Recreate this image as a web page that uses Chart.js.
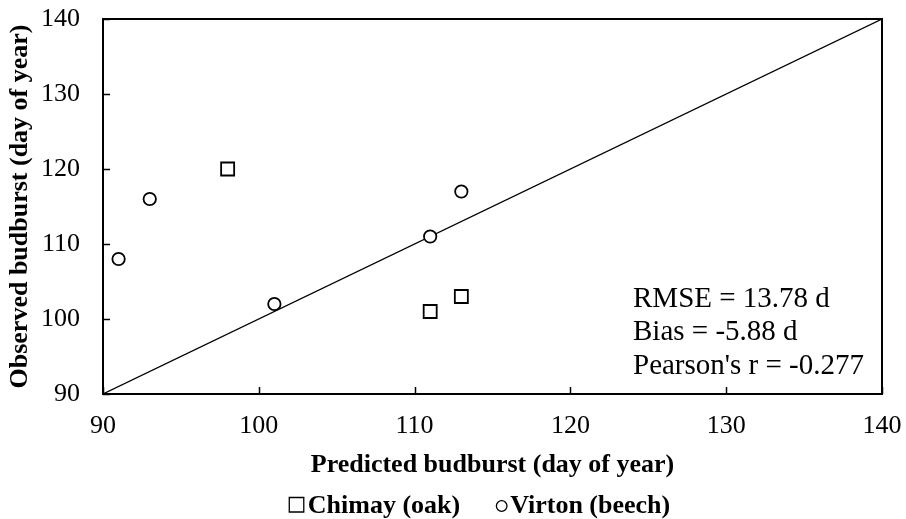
<!DOCTYPE html>
<html><head><meta charset="utf-8">
<script src="https://cdn.jsdelivr.net/npm/chart.js@4.4.1/dist/chart.umd.min.js"></script>
<style>html,body{margin:0;padding:0;background:#fff;}#wrap{width:906px;height:519px;}</style>
</head><body><div id="wrap"><canvas id="c" width="906" height="519"></canvas></div>
<script>
// ---- data ----
const chimayPredicted = [98, 111, 113];
const chimayObserved  = [120, 101, 103];
const virtonPredicted = [91, 93, 101, 111, 113];
const virtonObserved  = [108, 116, 102, 111, 117];
const oneToOne = [90, 140];
const axisMin = 90, axisMax = 140, axisStep = 10;
const seriesNames = ["Chimay (oak)", "Virton (beech)"];
const statsLines = ["RMSE = 13.78 d", "Bias = -5.88 d", "Pearson's r = -0.277"];
const xTitle = "Predicted budburst (day of year)";
const yTitle = "Observed budburst (day of year)";

const SERIF = "'Liberation Serif', 'Times New Roman', serif";

const toPts = (xs, ys) => xs.map((x, i) => ({x: x, y: ys[i]}));

const frame = {
  id: 'frame',
  afterDraw(chart) {
    const {ctx, chartArea: a, scales} = chart;
    ctx.save();
    ctx.strokeStyle = '#000';
    ctx.lineWidth = 1.5;
    // inward ticks
    const ticks = [];
    for (let v = axisMin; v <= axisMax; v += axisStep) ticks.push(v);
    ticks.forEach(v => {
      const px = Math.round(scales.x.getPixelForValue(v)) + 0.5;
      ctx.beginPath(); ctx.moveTo(px, a.bottom); ctx.lineTo(px, a.bottom - 7); ctx.stroke();
      const py = Math.round(scales.y.getPixelForValue(v)) + 0.5;
      ctx.beginPath(); ctx.moveTo(a.left, py); ctx.lineTo(a.left + 7, py); ctx.stroke();
    });
    ctx.lineWidth = 2;
    ctx.strokeRect(a.left, a.top, a.right - a.left, a.bottom - a.top);
    // stats text
    ctx.fillStyle = '#000';
    ctx.font = "29px " + SERIF;
    ctx.textAlign = 'left';
    ctx.textBaseline = 'alphabetic';
    statsLines.forEach((t, i) => ctx.fillText(t, a.left + 530, a.top + 288 + i * 33.4));
    // legend
    ctx.font = "bold 26px " + SERIF;
    const ds = chart.data.datasets.filter(d => d.label);
    const mkW = d => d.pointStyle === 'rect' ? 15 : 11;
    const gapIn = d => d.pointStyle === 'rect' ? 4 : 3;
    const gapItem = 36;
    const widths = ds.map(d => ctx.measureText(d.label).width);
    const total = ds.reduce((s, d, i) => s + widths[i] + mkW(d) + gapIn(d), 0) + gapItem * (ds.length - 1);
    let x = (a.left + a.right) / 2 - 13 - total / 2;
    const cy = 505;
    ctx.lineWidth = 1.3;
    ds.forEach((d, i) => {
      ctx.beginPath();
      if (d.pointStyle === 'rect') {
        ctx.rect(x + 0.5, cy - 7.5, 14.5, 14.5);
      } else {
        ctx.arc(x + 5.5, cy + 1, 5.3, 0, Math.PI * 2);
      }
      ctx.stroke();
      x += mkW(d) + gapIn(d);
      ctx.fillText(d.label, x, cy + 8);
      x += widths[i] + gapItem;
    });
    ctx.restore();
  }
};

const noPad = s => { s.paddingTop = 0; s.paddingBottom = 0; s.paddingLeft = 0; s.paddingRight = 0; };

new Chart(document.getElementById('c'), {
  type: 'scatter',
  data: {
    datasets: [
      {
        label: seriesNames[0], data: toPts(chimayPredicted, chimayObserved),
        pointStyle: 'rect', pointRadius: 9.2, pointBorderWidth: 1.8,
        borderColor: '#000', backgroundColor: '#fff', pointBackgroundColor: '#fff', order: 0
      },
      {
        label: seriesNames[1], data: toPts(virtonPredicted, virtonObserved),
        pointStyle: 'circle', pointRadius: 6.2, pointBorderWidth: 1.8,
        borderColor: '#000', backgroundColor: '#fff', pointBackgroundColor: '#fff', order: 0
      },
      {
        type: 'line', label: '', data: toPts(oneToOne, oneToOne),
        borderColor: '#000', borderWidth: 1.2, pointRadius: 0, fill: false, order: 5
      }
    ]
  },
  options: {
    responsive: false, animation: false, devicePixelRatio: 1, events: [],
    layout: {padding: {top: 19, right: 24, left: 0, bottom: 0}},
    plugins: {legend: {display: false}, tooltip: {enabled: false}},
    scales: {
      x: {
        type: 'linear', min: axisMin, max: axisMax,
        grid: {display: false, drawTicks: false}, border: {display: false},
        ticks: {stepSize: axisStep, color: '#000', padding: 17, font: {family: SERIF, size: 26}},
        title: {display: true, text: xTitle, color: '#000', padding: {top: 0, bottom: 38},
                font: {family: SERIF, size: 26, weight: 'bold'}},
        afterFit: s => { s.height = 125; noPad(s); }
      },
      y: {
        type: 'linear', min: axisMin, max: axisMax,
        grid: {display: false, drawTicks: false}, border: {display: false},
        ticks: {stepSize: axisStep, color: '#000', padding: 23, font: {family: SERIF, size: 26}},
        title: {display: true, text: yTitle, color: '#000', padding: {top: 5, bottom: 0},
                font: {family: SERIF, size: 26, weight: 'bold'}},
        afterFit: s => { s.width = 103; noPad(s); }
      }
    }
  },
  plugins: [frame]
});
</script>
</body></html>
